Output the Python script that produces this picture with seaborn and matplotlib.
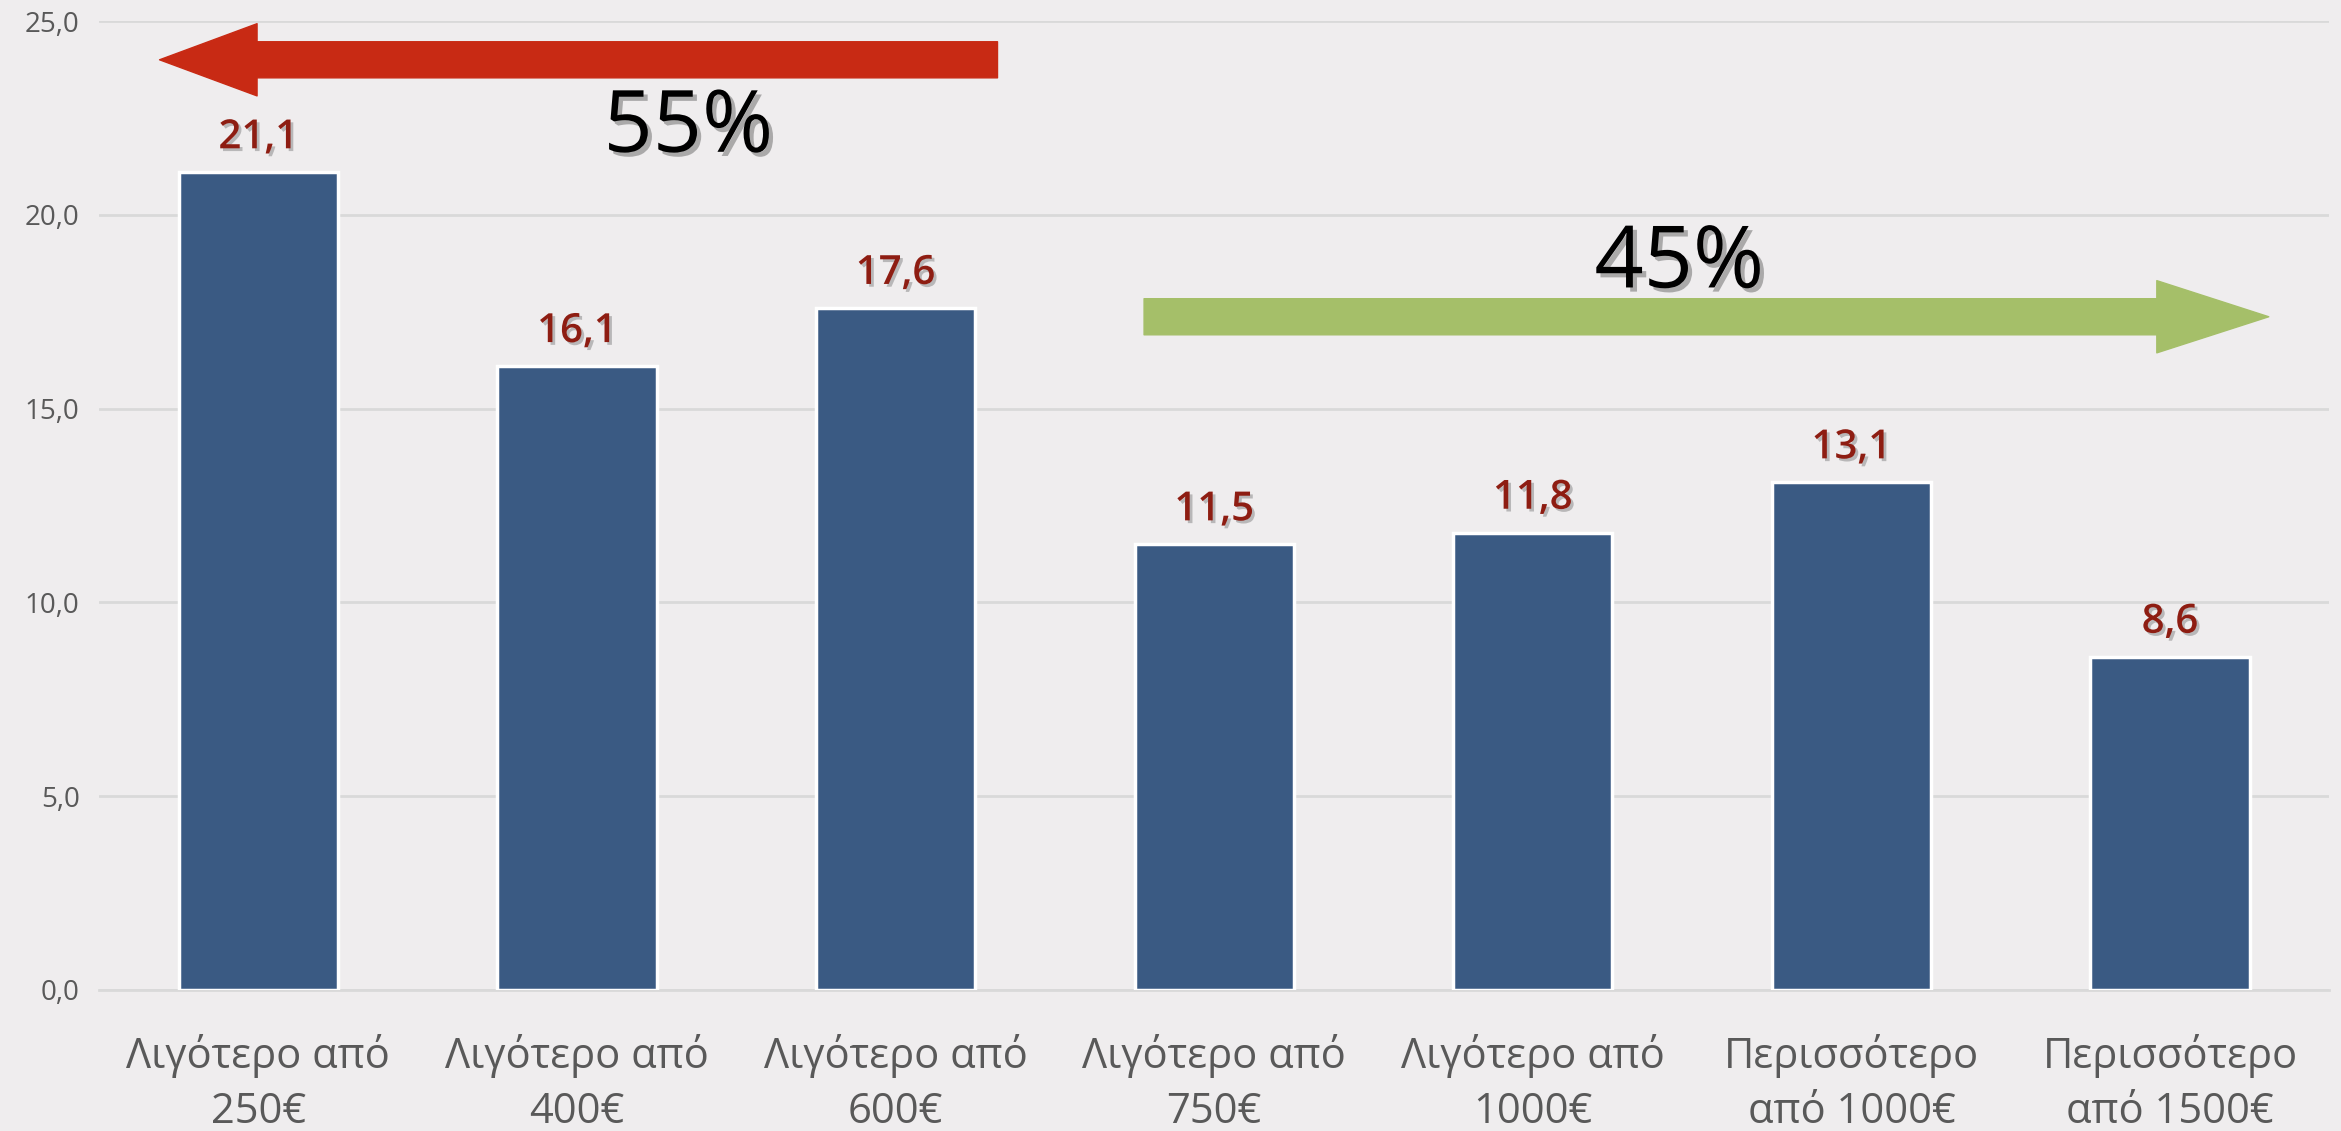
import numpy as np
import pandas as pd
import matplotlib
matplotlib.use("Agg")
import matplotlib.pyplot as plt
import matplotlib.patheffects as pe
import seaborn as sns

categories = [
    "Λιγότερο από\n250€", "Λιγότερο από\n400€", "Λιγότερο από\n600€",
    "Λιγότερο από\n750€", "Λιγότερο από\n1000€", "Περισσότερο\nαπό 1000€",
    "Περισσότερο\nαπό 1500€",
]
values = [21.1, 16.1, 17.6, 11.5, 11.8, 13.1, 8.6]
y_ticks = [0, 5, 10, 15, 20, 25]
left_share = "55%"
right_share = "45%"

BG = "#efedee"
BAR = "#3a5a83"
LABEL_RED = "#8e1d12"
GRAY = "#595959"

sns.set_style("white")
plt.rcParams["font.family"] = ["Open Sans", "DejaVu Sans"]

fig = plt.figure(figsize=(23.41, 11.31), dpi=100, facecolor=BG)
ax = fig.add_axes([0.0423, 0.1247, 0.9527, 0.8567])
ax.set_facecolor(BG)

df = pd.DataFrame({"cat": categories, "val": values})
sns.barplot(data=df, x="cat", y="val", color=BAR, width=0.5, edgecolor="white",
            linewidth=2.5, saturation=1, ax=ax, zorder=3)

ax.set_xlim(-0.5, len(categories) - 0.5)
ax.set_ylim(0, 25)
ax.set_yticks(y_ticks)
ax.set_yticklabels([f"{t:.1f}".replace(".", ",") for t in y_ticks], color=GRAY, fontsize=20)
ax.yaxis.grid(True, color="#d9d9d9", linewidth=2, zorder=0)
ax.set_axisbelow(True)
for s in ["left", "right", "top"]:
    ax.spines[s].set_visible(False)
ax.spines["bottom"].set_color("#d9d9d9")
ax.spines["bottom"].set_linewidth(2)
ax.tick_params(axis="y", length=0, pad=14)

# category boundary ticks, labels centered under the bars
ax.set_xticks(np.arange(len(categories)))
ax.set_xticklabels(categories, color=GRAY, fontsize=30, linespacing=1.38)
ax.set_xticks(np.arange(-0.5, len(categories)), minor=True)
ax.tick_params(axis="x", which="major", length=0, pad=32)
ax.tick_params(axis="x", which="minor", length=12, width=1.5, color="#d9d9d9")
ax.set_xlabel("")
ax.set_ylabel("")

shadow = [pe.SimplePatchShadow(offset=(2, -2), shadow_rgbFace="#777777", alpha=0.45), pe.Normal()]

ax.bar_label(ax.containers[0], labels=[f"{v:.1f}".replace(".", ",") for v in values],
             padding=10, color=LABEL_RED, fontsize=29, fontweight="semibold",
             path_effects=shadow)

# red arrow pointing left (first three groups), green arrow pointing right
ax.annotate("", xy=(-0.31, 24.0), xytext=(2.32, 24.0),
            arrowprops=dict(arrowstyle="simple,head_width=1.0,head_length=1.35,tail_width=0.5",
                            mutation_scale=52, color="#c82a14", shrinkA=0, shrinkB=0),
            zorder=4)
ax.annotate("", xy=(6.31, 17.37), xytext=(2.78, 17.37),
            arrowprops=dict(arrowstyle="simple,head_width=1.0,head_length=1.55,tail_width=0.5",
                            mutation_scale=52, color="#a5bf69", shrinkA=0, shrinkB=0),
            zorder=4)

big_shadow = [pe.SimplePatchShadow(offset=(3, -3), shadow_rgbFace="#666666", alpha=0.5), pe.Normal()]
ax.text(1.35, 22.2, left_share, ha="center", va="center", fontsize=62, color="black",
        path_effects=big_shadow, zorder=5)
ax.text(4.46, 18.7, right_share, ha="center", va="center", fontsize=62, color="black",
        path_effects=big_shadow, zorder=5)

fig.savefig("out.png", dpi=100, facecolor=BG)
